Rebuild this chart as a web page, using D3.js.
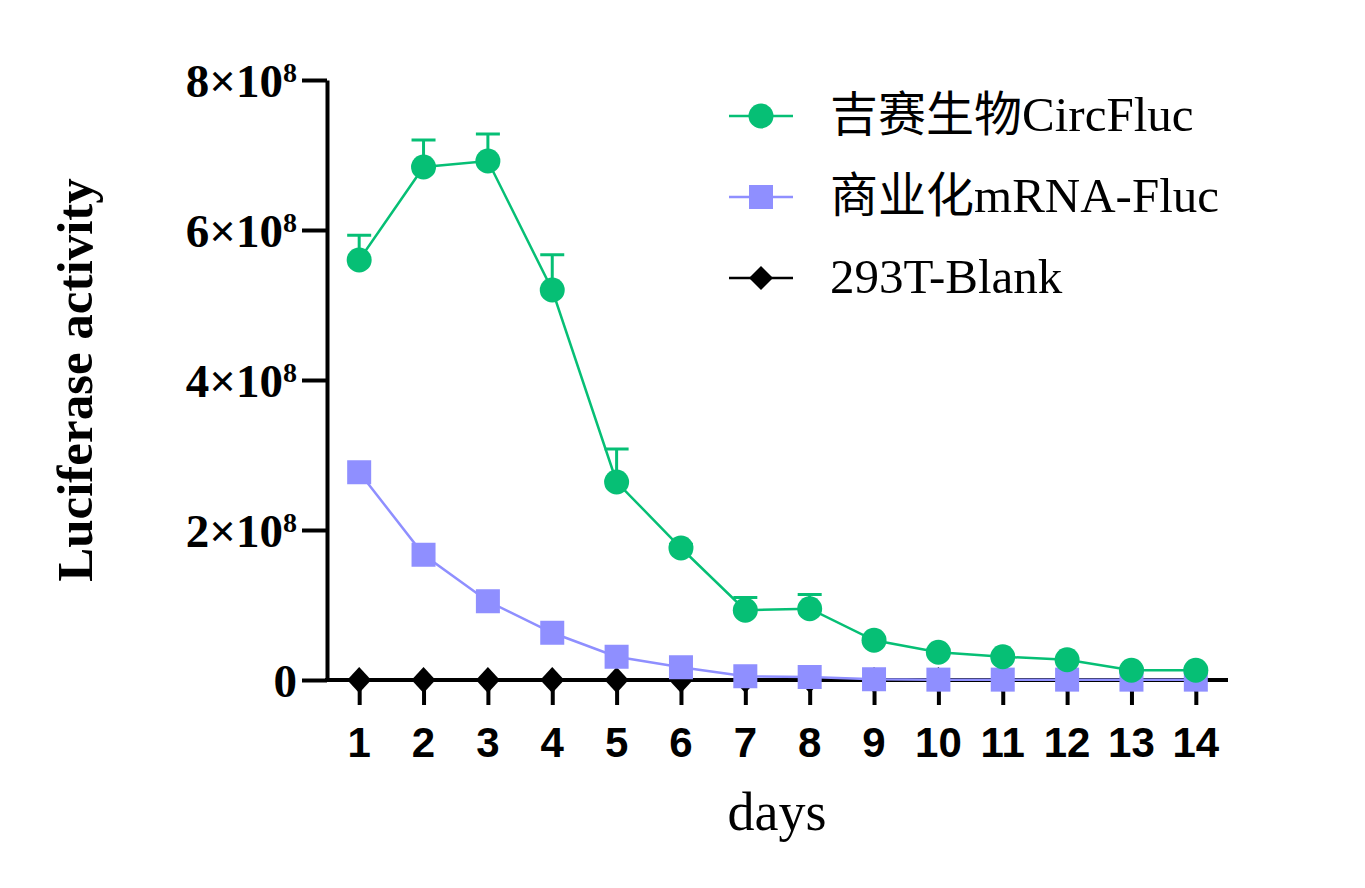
<!DOCTYPE html>
<html>
<head>
<meta charset="utf-8">
<script src="https://cdn.jsdelivr.net/npm/d3@7"></script>
<style>
  html, body { margin: 0; padding: 0; background: #fff; }
  svg { display: block; }
</style>
</head>
<body>
<svg id="chart" width="1365" height="888"></svg>
<script>
// ---- data ----
const days = [1, 2, 3, 4, 5, 6, 7, 8, 9, 10, 11, 12, 13, 14];
const circFluc = [5.60e8, 6.84e8, 6.92e8, 5.20e8, 2.64e8, 1.76e8, 0.93e8, 0.95e8, 0.53e8, 0.37e8, 0.31e8, 0.27e8, 0.13e8, 0.13e8];
const circFlucErr = [0.33e8, 0.36e8, 0.36e8, 0.47e8, 0.44e8, 0.05e8, 0.17e8, 0.19e8, 0.03e8, 0.03e8, 0.02e8, 0.02e8, 0.02e8, 0.02e8];
const mrnaFluc = [2.77e8, 1.67e8, 1.05e8, 0.63e8, 0.31e8, 0.17e8, 0.05e8, 0.04e8, 0.01e8, 0.005e8, 0.005e8, 0.005e8, 0.005e8, 0.005e8];
const blank = [0, 0, 0, 0, 0, 0, 0, 0, 0, 0, 0, 0, 0, 0];
const yTicks = [0, 2e8, 4e8, 6e8, 8e8];
const yTickMantissa = ["0", "2×10", "4×10", "6×10", "8×10"];
const seriesNames = [["吉赛生物", "CircFluc"], ["商业化", "mRNA-Fluc"], ["", "293T-Blank"]];
const xTitle = "days";
const yTitle = "Luciferase activity";

// ---- setup ----
const GREEN = "#06BF75", BLUE = "#8F8FFF", BLACK = "#000";
const svg = d3.select("#chart");
const x = d3.scaleLinear().domain([0.5, 14.5]).range([327, 1228]);
const y = d3.scaleLinear().domain([0, 8e8]).range([680, 80]);

// ---- axes ----
const yAxis = svg.append("g").attr("transform", `translate(${x(0.5)},0)`)
  .call(d3.axisLeft(y).tickValues(yTicks).tickSize(25).tickSizeOuter(0).tickFormat(() => ""));
yAxis.select(".domain").attr("stroke-width", 4).attr("stroke", "#000");
yAxis.selectAll(".tick line").attr("stroke-width", 4).attr("stroke", "#000");

const xAxis = svg.append("g").attr("transform", `translate(0,${y(0)})`)
  .call(d3.axisBottom(x).tickValues(days).tickSize(25).tickSizeOuter(0).tickFormat(() => ""));
xAxis.select(".domain").attr("stroke-width", 4).attr("stroke", "#000").attr("d", `M${x(0.5) - 2},0H${x(14.5)}`);
xAxis.selectAll(".tick line").attr("stroke-width", 4).attr("stroke", "#000");

// y tick labels
const yl = svg.append("g");
yTicks.forEach((t, i) => {
  const txt = yl.append("text")
    .attr("x", 297).attr("y", y(t) + 17)
    .attr("text-anchor", "end")
    .style("font-family", "'Liberation Serif', 'Times New Roman', serif")
    .style("font-weight", "bold").style("font-size", "47px").attr("fill", "#000");
  txt.append("tspan").text(yTickMantissa[i]);
  if (t !== 0) {
    txt.append("tspan").attr("dy", -15).style("font-size", "28px").text("8");
  }
});

// x tick labels
svg.append("g").selectAll("text").data(days).join("text")
  .attr("x", d => x(d)).attr("y", 757)
  .attr("text-anchor", "middle")
  .style("font-family", "'Liberation Sans', Arial, sans-serif")
  .style("font-weight", "bold").style("font-size", "42px")
  .text(d => d);

// axis titles
svg.append("text")
  .attr("transform", "translate(92,380) rotate(-90)")
  .attr("text-anchor", "middle")
  .style("font-family", "'Liberation Serif', 'Times New Roman', serif")
  .style("font-weight", "bold").style("font-size", "51px")
  .text(yTitle);
svg.append("text")
  .attr("x", 777).attr("y", 830).attr("text-anchor", "middle")
  .style("font-family", "'Liberation Serif', 'Times New Roman', serif")
  .style("font-size", "54px")
  .text(xTitle);

// ---- series ----
const line = d3.line().x(d => x(d[0])).y(d => y(d[1]));
const diamond = (cx, cy) => `M${cx},${cy - 13}L${cx + 12},${cy}L${cx},${cy + 13}L${cx - 12},${cy}Z`;

// blank (black)
const blankData = days.map((d, i) => [d, blank[i]]);
svg.append("path").attr("d", line(blankData)).attr("fill", "none").attr("stroke", BLACK).attr("stroke-width", 2.5);
svg.append("g").selectAll("path").data(blankData).join("path")
  .attr("d", d => diamond(x(d[0]), y(d[1]))).attr("fill", BLACK);

// mRNA (blue)
const mData = days.map((d, i) => [d, mrnaFluc[i]]);
svg.append("path").attr("d", line(mData)).attr("fill", "none").attr("stroke", BLUE).attr("stroke-width", 2.5);
svg.append("g").selectAll("rect").data(mData).join("rect")
  .attr("x", d => x(d[0]) - 12).attr("y", d => y(d[1]) - 12)
  .attr("width", 24).attr("height", 24).attr("fill", BLUE);

// circFluc (green)
const cData = days.map((d, i) => [d, circFluc[i], circFlucErr[i]]);
const eb = svg.append("g").attr("stroke", GREEN).attr("stroke-width", 3);
cData.forEach(d => {
  const cx = x(d[0]), top = y(d[1] + d[2]);
  eb.append("line").attr("x1", cx).attr("x2", cx).attr("y1", y(d[1])).attr("y2", top);
  eb.append("line").attr("x1", cx - 12).attr("x2", cx + 12).attr("y1", top).attr("y2", top);
});
svg.append("path").attr("d", line(cData)).attr("fill", "none").attr("stroke", GREEN).attr("stroke-width", 2.5);
svg.append("g").selectAll("circle").data(cData).join("circle")
  .attr("cx", d => x(d[0])).attr("cy", d => y(d[1])).attr("r", 12.5).attr("fill", GREEN);

// ---- legend ----
const legendRows = [
  { color: GREEN, shape: "circle", y: 116, base: 131 },
  { color: BLUE, shape: "square", y: 197, base: 212 },
  { color: BLACK, shape: "diamond", y: 278, base: 293 }
];
const lg = svg.append("g");
legendRows.forEach((r, i) => {
  lg.append("line").attr("x1", 729).attr("x2", 793).attr("y1", r.y).attr("y2", r.y)
    .attr("stroke", r.color).attr("stroke-width", 2.5);
  if (r.shape === "circle") lg.append("circle").attr("cx", 761).attr("cy", r.y).attr("r", 12.5).attr("fill", r.color);
  else if (r.shape === "square") lg.append("rect").attr("x", 749).attr("y", r.y - 12).attr("width", 24).attr("height", 24).attr("fill", r.color);
  else lg.append("path").attr("d", `M761,${r.y - 12}L773,${r.y}L761,${r.y + 12}L749,${r.y}Z`).attr("fill", r.color);
  const t = lg.append("text").attr("x", 830).attr("y", r.base);
  if (seriesNames[i][0]) {
    t.append("tspan").style("font-family", "'Noto Sans CJK SC', sans-serif").style("font-size", "48px").text(seriesNames[i][0]);
  }
  t.append("tspan").style("font-family", "'Liberation Serif', 'Times New Roman', serif").style("font-size", "49px").text(seriesNames[i][1]);
});
</script>
</body>
</html>
